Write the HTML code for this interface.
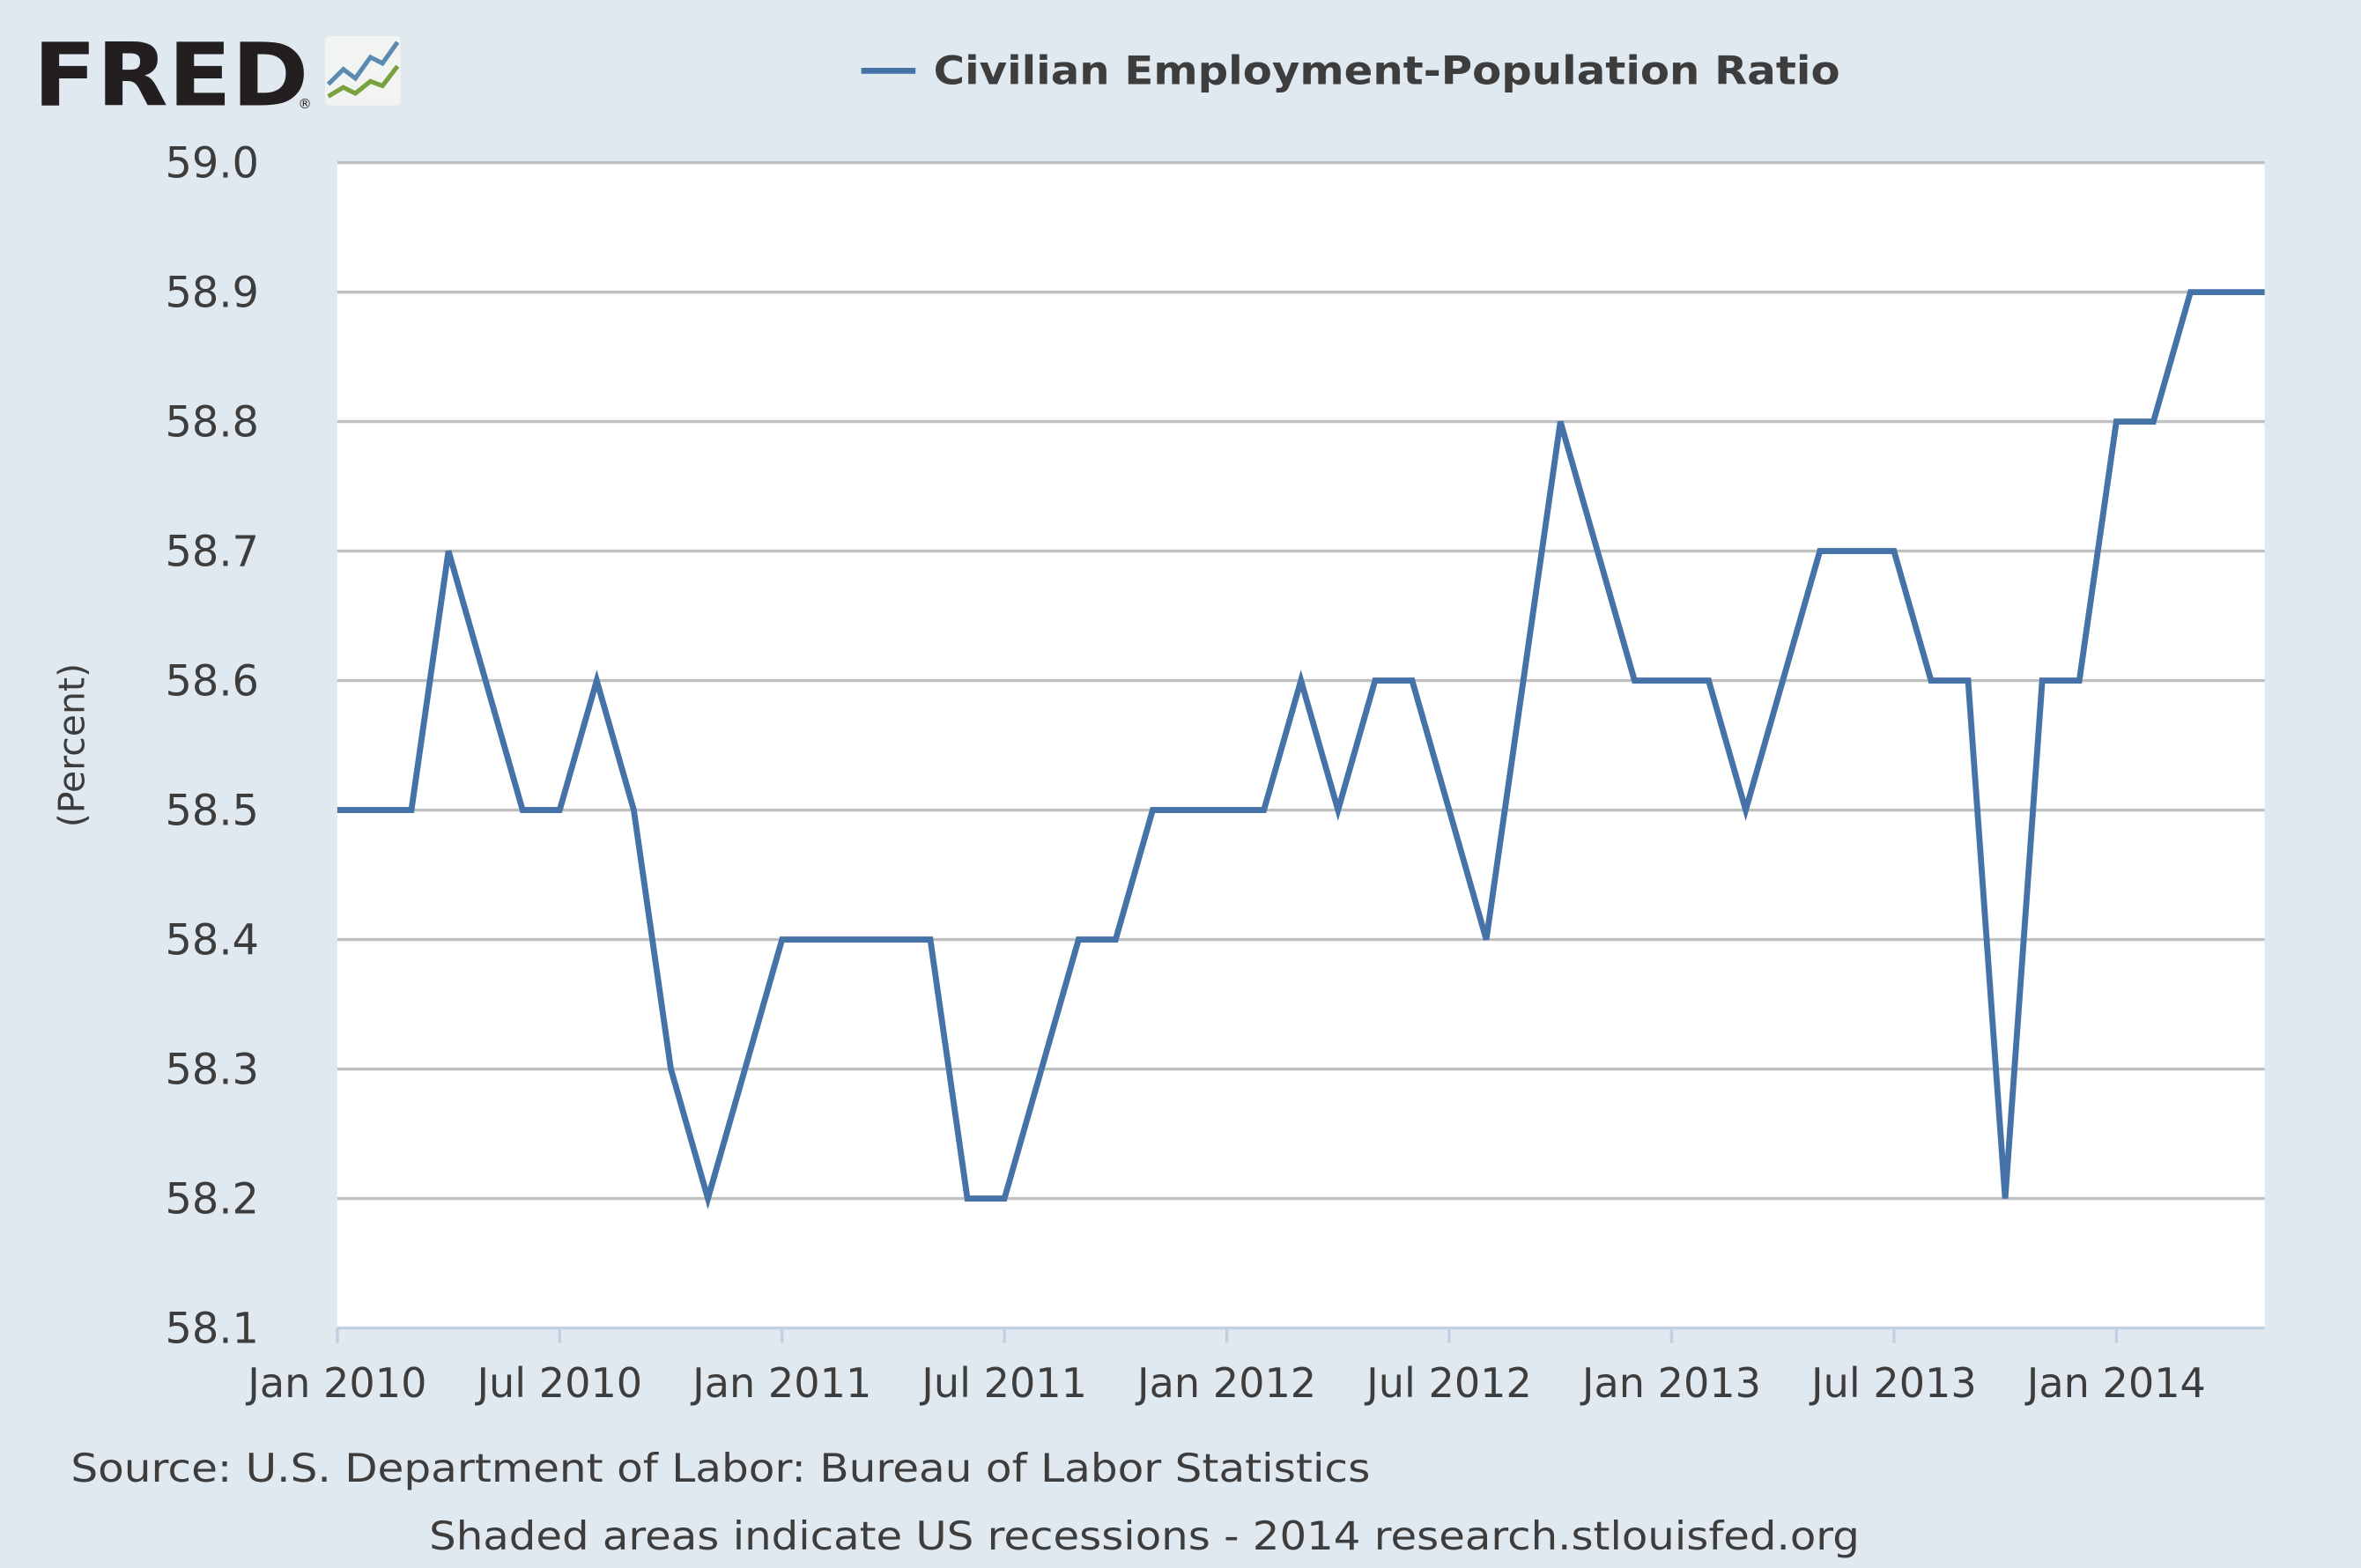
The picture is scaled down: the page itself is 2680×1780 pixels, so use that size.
<!DOCTYPE html>
<html><head><meta charset="utf-8"><style>
html,body{margin:0;padding:0;background:#e1e9f0;}
svg{display:block;font-family:"DejaVu Sans","Liberation Sans",sans-serif;}
</style></head><body>
<svg id="chart" width="2680" height="1780" viewBox="0 0 1568 1041.4" xmlns="http://www.w3.org/2000/svg">
<rect x="0" y="0" width="1568" height="1041.4" fill="#e1e9f0"/>
<g>
<text x="22" y="70" font-size="58" font-weight="bold" fill="#231f20" textLength="183" lengthAdjust="spacingAndGlyphs">FRED</text>
<text x="198" y="72" font-size="9" fill="#231f20">®</text>
<rect x="216" y="24" width="50" height="46" rx="3" fill="#f2f4f2"/>
<polyline points="218,56 228,46 236,52 246,38 254,42 264,28" fill="none" stroke="#5b8bb0" stroke-width="3"/>
<polyline points="218,64 228,58 236,62 246,54 254,57 264,44" fill="none" stroke="#7aa140" stroke-width="3"/>
</g>
<g>
<line x1="572" y1="47" x2="608" y2="47" stroke="#4572a7" stroke-width="4"/>
<text x="620" y="56" font-size="26" font-weight="bold" fill="#3d3d3d" textLength="602" lengthAdjust="spacingAndGlyphs">Civilian Employment-Population Ratio</text>
</g>
<rect x="224" y="108" width="1280" height="774" fill="#ffffff"/>
<g id="grid"></g>
<g id="xaxis"></g>
<text transform="translate(56,495) rotate(-90)" text-anchor="middle" font-size="24" fill="#3d3d3d">(Percent)</text>
<g id="series"></g>
<text x="47" y="984" font-size="26" fill="#3d3d3d" textLength="863" lengthAdjust="spacingAndGlyphs">Source: U.S. Department of Labor: Bureau of Labor Statistics</text>
<text x="285" y="1029" font-size="26" fill="#3d3d3d" textLength="950" lengthAdjust="spacingAndGlyphs">Shaded areas indicate US recessions - 2014 research.stlouisfed.org</text>
</svg>
<script>
const values = [58.5,58.5,58.5,58.7,58.6,58.5,58.5,58.6,58.5,58.3,58.2,58.3,
58.4,58.4,58.4,58.4,58.4,58.2,58.2,58.3,58.4,58.4,58.5,58.5,
58.5,58.5,58.6,58.5,58.6,58.6,58.5,58.4,58.6,58.8,58.7,58.6,
58.6,58.6,58.5,58.6,58.7,58.7,58.7,58.6,58.6,58.2,58.6,58.6,
58.8,58.8,58.9,58.9,58.9];
const yTicks = [58.1,58.2,58.3,58.4,58.5,58.6,58.7,58.8,58.9,59.0];
const xTickLabels = ["Jan 2010","Jul 2010","Jan 2011","Jul 2011","Jan 2012","Jul 2012","Jan 2013","Jul 2013","Jan 2014"];
const xTickMonths = [0,6,12,18,24,30,36,42,48];
const NS="http://www.w3.org/2000/svg";
const L=224,R=1504,T=108,B=882,yMin=58.1,yMax=59.0,nMonths=values.length-1;
function xs(m){return L+(R-L)*m/nMonths;}
function ys(v){return B-(B-T)*(v-yMin)/(yMax-yMin);}
function mk(tag,attrs,parent){const e=document.createElementNS(NS,tag);for(const k in attrs)e.setAttribute(k,attrs[k]);parent.appendChild(e);return e;}
const grid=document.getElementById('grid');
yTicks.forEach(v=>{
  if(v>yMin){const g=mk('line',{x1:L,x2:R,y1:ys(v),y2:ys(v),stroke:'#c0c0c0','stroke-width':2},grid);
  
  }
  const t=mk('text',{x:172,y:ys(v)+10,'text-anchor':'end','font-size':28,fill:'#3d3d3d'},grid);
  t.textContent=v.toFixed(1);
  
  
});
const xa=document.getElementById('xaxis');
const al=mk('line',{x1:L,x2:R,y1:B,y2:B,stroke:'#c0d0e0','stroke-width':2},xa);


xTickMonths.forEach((m,i)=>{
  const tk=mk('line',{x1:xs(m),x2:xs(m),y1:B,y2:B+10,stroke:'#c0d0e0','stroke-width':2},xa);
  
  
  const t=mk('text',{x:xs(m),y:928,'text-anchor':'middle','font-size':27,fill:'#3d3d3d'},xa);
  t.textContent=xTickLabels[i];
  
  
});
const pts=values.map((v,i)=>xs(i).toFixed(2)+','+ys(v).toFixed(2)).join(' ');
const line=mk('polyline',{points:pts,fill:'none',stroke:'#4572a7','stroke-width':4,'stroke-linejoin':'miter'},document.getElementById('series'));


</script>
</body></html>
